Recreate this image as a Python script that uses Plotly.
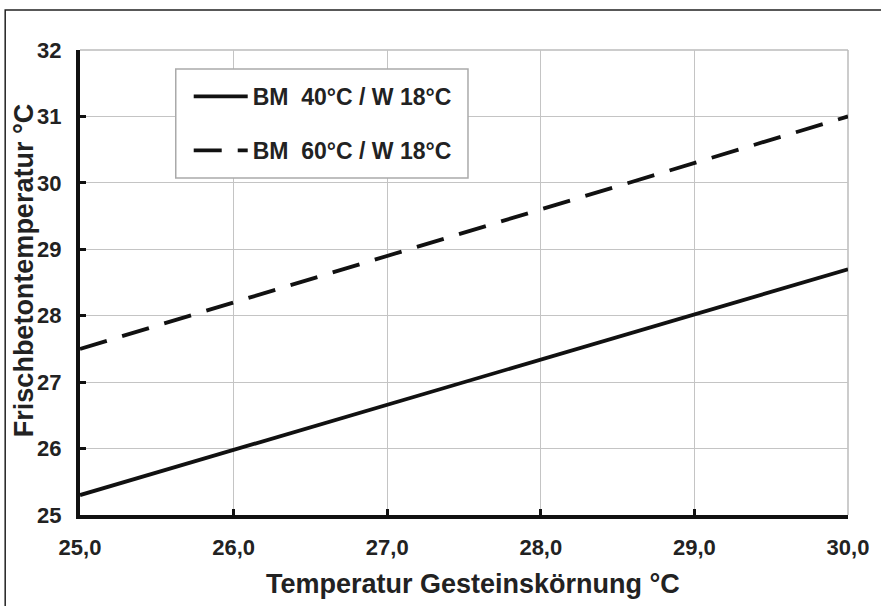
import plotly.graph_objects as go

x_vals = [25.0, 26.0, 27.0, 28.0, 29.0, 30.0]
bm40_w18 = [25.3, 25.98, 26.66, 27.34, 28.02, 28.7]
bm60_w18 = [27.5, 28.2, 28.9, 29.6, 30.3, 31.0]
x_ticks = [25, 26, 27, 28, 29, 30]
x_ticktext = ["25,0", "26,0", "27,0", "28,0", "29,0", "30,0"]
y_ticks = [25, 26, 27, 28, 29, 30, 31, 32]
series_names = ["BM  40°C / W 18°C", "BM  60°C / W 18°C"]
x_title = "Temperatur Gesteinskörnung °C"
y_title = "Frischbetontemperatur °C"

FONT = "Liberation Sans, Arial, sans-serif"
TXT = "#222222"

# plot area in pixels (figure coords)
L, R, T, B = 80, 850, 50, 515
PW, PH = R - L, B - T


def px(x):
    return (x - L) / PW


def py(y):
    return (B - y) / PH


fig = go.Figure()
fig.add_trace(go.Scatter(x=x_vals, y=bm40_w18, mode="lines", name=series_names[0],
                         legendgroup="a",
                         line=dict(color="#111111", width=3.8)))
fig.add_trace(go.Scatter(x=x_vals, y=bm60_w18, mode="lines", name=series_names[1],
                         legendgroup="b",
                         line=dict(color="#111111", width=3.8, dash="28px,16px")))

# plot-area top/right gray borders
fig.add_shape(type="line", xref="paper", yref="paper", x0=0, x1=1, y0=1, y1=1,
              line=dict(color="#bbbbbb", width=1.5), layer="below")
fig.add_shape(type="line", xref="paper", yref="paper", x0=1, x1=1, y0=0, y1=1,
              line=dict(color="#bbbbbb", width=1.5), layer="below")
# legend box
fig.add_shape(type="rect", xref="paper", yref="paper",
              x0=px(176), x1=px(469), y0=py(178), y1=py(69),
              fillcolor="white", line=dict(color="#aaaaaa", width=1.5), layer="above")
# outer frame
fig.add_shape(type="rect", xref="paper", yref="paper",
              x0=px(5), x1=px(890), y0=py(620), y1=py(10),
              line=dict(color="#222222", width=1.5))

# axis titles placed as in the reference
fig.add_annotation(text=y_title, textangle=-90, xref="paper", yref="paper",
                   x=px(24), y=py(271), xanchor="center", yanchor="middle",
                   showarrow=False,
                   font=dict(family=FONT, size=27, color=TXT, weight="bold"))
fig.add_annotation(text=x_title, xref="paper", yref="paper",
                   x=px(474), y=py(584), xanchor="center", yanchor="middle",
                   showarrow=False,
                   font=dict(family=FONT, size=27, color=TXT, weight="bold"))

fig.update_layout(
    width=881, height=606,
    margin=dict(l=L, r=881 - R, t=T, b=606 - B),
    paper_bgcolor="white", plot_bgcolor="white",
    font=dict(family=FONT, color=TXT, size=16),
    showlegend=True,
    legend=dict(
        x=px(189), y=py(75), xanchor="left", yanchor="top",
        bgcolor="rgba(0,0,0,0)", borderwidth=0,
        font=dict(family=FONT, size=23, color=TXT, weight="bold"),
        tracegroupgap=21, traceorder="grouped",
        itemwidth=54,
    ),
    xaxis=dict(
        range=[25, 30], tickvals=x_ticks, ticktext=x_ticktext,
        showgrid=True, gridcolor="#c4c4c4", gridwidth=1,
        showline=True, linecolor="#111111", linewidth=4,
        ticks="inside", ticklen=6, tickwidth=3, tickcolor="#111111",
        ticklabelstandoff=10,
        tickfont=dict(family=FONT, size=22, color=TXT, weight="bold"),
        zeroline=False,
    ),
    yaxis=dict(
        range=[25, 32], tickvals=y_ticks,
        showgrid=True, gridcolor="#c4c4c4", gridwidth=1,
        showline=True, linecolor="#111111", linewidth=4,
        ticks="inside", ticklen=6, tickwidth=3, tickcolor="#111111",
        ticklabelstandoff=10,
        tickfont=dict(family=FONT, size=22, color=TXT, weight="bold"),
        zeroline=False,
    ),
)

fig.write_html("out.html", config={"displayModeBar": False},
               post_script="document.body.style.margin='0';")
